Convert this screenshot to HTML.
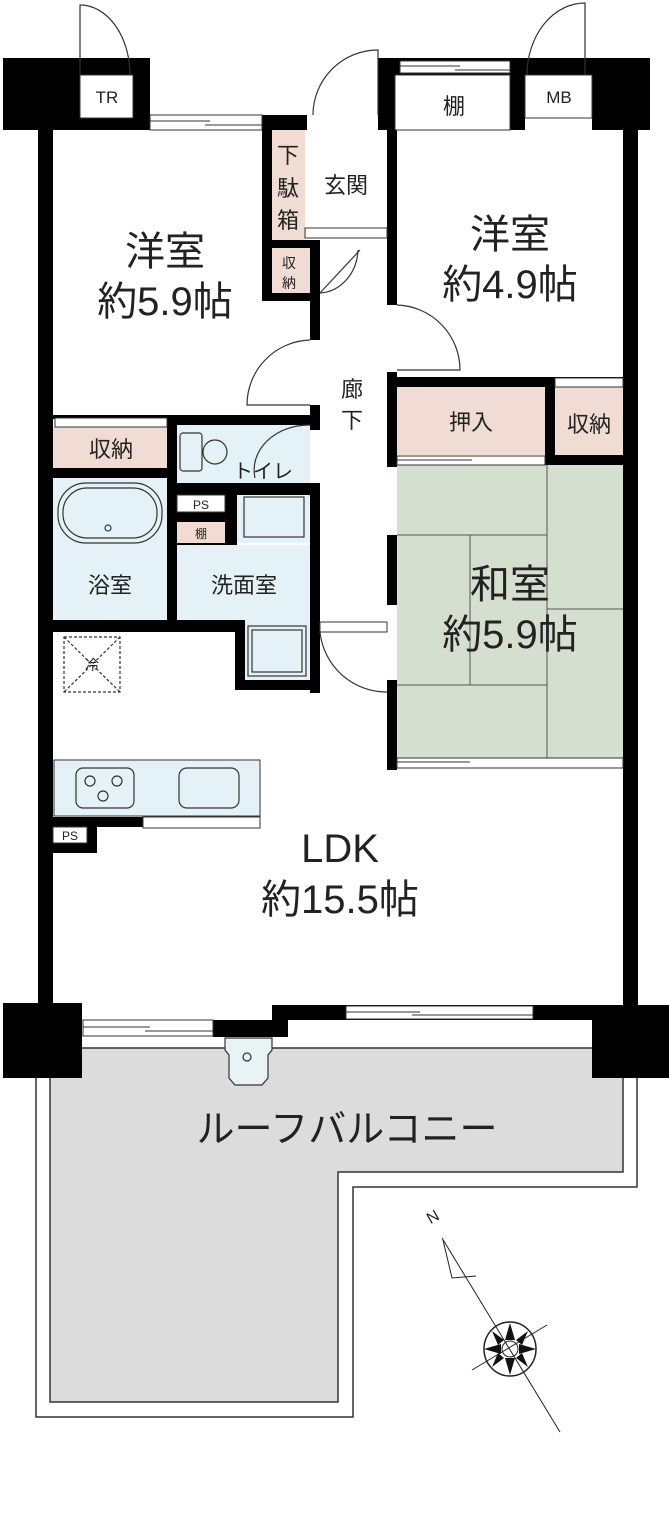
<!DOCTYPE html>
<html><head><meta charset="utf-8"><style>
html,body{margin:0;padding:0;background:#fff}
svg{display:block}
text{font-family:"Liberation Sans","Noto Sans CJK JP",sans-serif;fill:#222}
</style></head><body>
<svg width="669" height="1518" viewBox="0 0 669 1518" xmlns="http://www.w3.org/2000/svg">
<!-- balcony -->
<polygon points="36,1075 36,1417 353,1417 353,1187 637,1187 637,1075" fill="#fff" stroke="#333" stroke-width="1.5"/>
<polygon points="50,1048 50,1402 338,1402 338,1172 623,1172 623,1048" fill="#dcdcdc" stroke="#333" stroke-width="1.5"/>
<!-- fills -->
<rect x="272" y="130" width="33" height="110" fill="#f0dcd2"/>
<rect x="272" y="248" width="38" height="45" fill="#f0dcd2"/>
<rect x="397" y="387" width="148" height="68" fill="#f0dcd2"/>
<rect x="555" y="387" width="68" height="68" fill="#f0dcd2"/>
<rect x="53" y="427" width="114" height="41" fill="#f0dcd2"/>
<rect x="177" y="425" width="133" height="58" fill="#e4f2f7"/>
<rect x="53" y="478" width="114" height="142" fill="#e4f2f7"/>
<rect x="237" y="495" width="73" height="48" fill="#e4f2f7"/>
<rect x="177" y="545" width="133" height="75" fill="#e4f2f7"/>
<rect x="243" y="620" width="67" height="60" fill="#e4f2f7"/>
<rect x="177" y="522" width="48" height="21" fill="#f0dcd2"/>
<rect x="54" y="760" width="206" height="56" fill="#e4f2f7" stroke="#333"/>
<rect x="397" y="465" width="226" height="293" fill="#d5dfcf"/>
<g stroke="#555" stroke-width="1" fill="none">
<line x1="397" y1="535" x2="547" y2="535"/><line x1="547" y1="465" x2="547" y2="758"/>
<line x1="470" y1="535" x2="470" y2="685"/><line x1="397" y1="685" x2="547" y2="685"/>
<line x1="547" y1="609" x2="623" y2="609"/>
</g>
<!-- walls -->
<g fill="#000">
<rect x="3" y="58" width="147" height="72"/>
<rect x="38" y="130" width="15" height="877"/>
<rect x="623" y="130" width="15" height="877"/>
<rect x="378" y="58" width="272" height="17"/>
<rect x="378" y="58" width="17" height="72"/>
<rect x="510" y="75" width="15" height="55"/>
<rect x="592" y="58" width="58" height="72"/>
<rect x="262" y="115" width="45" height="15"/>
<rect x="262" y="130" width="10" height="170"/>
<rect x="262" y="240" width="58" height="8"/>
<rect x="262" y="293" width="58" height="8"/>
<rect x="310" y="240" width="10" height="100"/>
<rect x="310" y="405" width="10" height="25"/>
<rect x="387" y="130" width="10" height="175"/>
<rect x="387" y="372" width="10" height="95"/>
<rect x="387" y="535" width="10" height="70"/>
<rect x="387" y="680" width="10" height="90"/>
<rect x="387" y="377" width="236" height="10"/>
<rect x="545" y="377" width="10" height="88"/>
<rect x="545" y="455" width="78" height="10"/>
<rect x="40" y="415" width="137" height="4"/>
<rect x="167" y="415" width="153" height="10"/>
<rect x="167" y="415" width="10" height="210"/>
<rect x="40" y="468" width="137" height="10"/>
<rect x="177" y="483" width="143" height="12"/>
<rect x="225" y="495" width="12" height="50"/>
<rect x="177" y="512" width="48" height="10"/>
<rect x="177" y="543" width="60" height="2"/>
<rect x="310" y="483" width="10" height="210"/>
<rect x="40" y="620" width="203" height="12"/>
<rect x="235" y="620" width="10" height="70"/>
<rect x="235" y="680" width="85" height="10"/>
<rect x="40" y="817" width="103" height="10"/>
<rect x="87" y="817" width="10" height="36"/>
<rect x="40" y="843" width="57" height="10"/>
<rect x="3" y="1003" width="79" height="75"/>
<rect x="272" y="1005" width="321" height="15"/>
<rect x="213" y="1020" width="75" height="17"/>
<rect x="592" y="1005" width="77" height="73"/>
</g>
<!-- white boxes -->
<g fill="#fff" stroke="#333">
<rect x="80" y="75" width="53" height="43"/>
<rect x="395" y="75" width="115" height="55"/>
<rect x="525" y="75" width="67" height="43"/>
<rect x="177" y="495" width="48" height="17"/>
<rect x="53" y="827" width="34" height="16"/>
<rect x="143" y="817" width="117" height="11"/>
</g>
<!-- windows / sliding doors -->
<g stroke="#333" stroke-width="1" fill="#fff">
<rect x="150" y="115" width="112" height="15"/><line x1="150" y1="121" x2="210" y2="121"/><line x1="205" y1="125" x2="262" y2="125"/>
<rect x="400" y="61" width="110" height="12"/><line x1="400" y1="66" x2="460" y2="66"/><line x1="455" y1="70" x2="510" y2="70"/>
<rect x="83" y="1020" width="130" height="16"/><line x1="83" y1="1027" x2="150" y2="1027"/><line x1="145" y1="1031" x2="213" y2="1031"/>
<rect x="346" y="1006" width="187" height="13"/><line x1="346" y1="1012" x2="420" y2="1012"/><line x1="412" y1="1015" x2="533" y2="1015"/>
<rect x="397" y="456" width="148" height="9"/><line x1="397" y1="460" x2="472" y2="460"/>
<rect x="397" y="758" width="226" height="10"/><line x1="397" y1="762" x2="470" y2="762"/>
<rect x="305" y="228" width="82" height="10"/>
<rect x="55" y="418" width="112" height="9"/>
<rect x="555" y="378" width="68" height="9"/>
<rect x="320" y="622" width="67" height="10"/>
</g>
<!-- door arcs -->
<g stroke="#333" stroke-width="1.2" fill="none">
<path d="M80,75 L80,5 A50,70 0 0 1 130,75"/>
<path d="M585,75 L585,3 A58,72 0 0 0 527,75"/>
<path d="M378,115 L378,50 A65,65 0 0 0 313,115"/>
<path d="M320,293 L360,250"/><path d="M320,293 A40,45 0 0 0 358,250"/>
<path d="M310,340 A65,65 0 0 0 247,405 L310,405"/>
<path d="M397,305 A65,65 0 0 1 460,370 L397,370"/>
<path d="M320,632 A67,67 0 0 0 387,692"/>
<path d="M310,425 A55,45 0 0 0 255,478"/>
</g>
<!-- fixtures -->
<g stroke="#333" stroke-width="1.2" fill="none">
<rect x="58" y="483" width="104" height="60" rx="28"/>
<rect x="63" y="488" width="94" height="50" rx="24"/>
<circle cx="108" cy="528" r="3"/>
<rect x="180" y="433" width="22" height="38" rx="3"/>
<circle cx="215" cy="452" r="12"/>
<rect x="244" y="497" width="60" height="40"/>
<rect x="248" y="626" width="58" height="50"/>
<rect x="252" y="630" width="50" height="42"/>
<rect x="64" y="637" width="56" height="55" stroke-dasharray="3,2"/>
<line x1="64" y1="637" x2="120" y2="692" stroke-dasharray="3,2"/><line x1="120" y1="637" x2="64" y2="692" stroke-dasharray="3,2"/>
<rect x="76" y="768" width="58" height="40" rx="7"/>
<circle cx="90" cy="781" r="5"/><circle cx="117" cy="781" r="5"/><circle cx="103" cy="796" r="5"/>
<rect x="179" y="768" width="60" height="40" rx="8"/>
<path d="M225,1038 L272,1038 L272,1050 L268,1055 L268,1078 L262,1085 L235,1085 L229,1078 L229,1055 L225,1050 Z" fill="#e8f3f5"/>
<circle cx="247" cy="1057" r="4"/>
</g>
<!-- compass -->
<g stroke="#222" fill="none">
<line x1="442" y1="1238" x2="560" y2="1432"/>
<line x1="472" y1="1370" x2="547" y2="1325"/>
<path d="M443,1240 L452,1278 L476,1276"/>
<ellipse cx="510" cy="1349" rx="26" ry="27" stroke-width="1.5"/>
<circle cx="510" cy="1349" r="8"/>
</g>
<g fill="#111">
<polygon points="510,1323 515,1340 505,1340"/><polygon points="510,1375 515,1358 505,1358"/>
<polygon points="484,1349 501,1344 501,1354"/><polygon points="536,1349 519,1344 519,1354"/>
<polygon points="492,1331 504,1340 498,1345"/><polygon points="528,1331 516,1340 522,1345"/>
<polygon points="492,1367 504,1358 498,1353"/><polygon points="528,1367 516,1358 522,1353"/>
</g>
<text x="428" y="1225" font-size="16" transform="rotate(-30 428 1220)">N</text>
<!-- labels -->
<text x="107" y="103" font-size="17" text-anchor="middle">TR</text>
<text x="454" y="114" font-size="22" text-anchor="middle">棚</text>
<text x="559" y="103" font-size="17" text-anchor="middle">MB</text>
<text x="165" y="265" font-size="40" text-anchor="middle">洋室</text>
<text x="165" y="315" font-size="40" text-anchor="middle">約5.9帖</text>
<text x="510" y="248" font-size="40" text-anchor="middle">洋室</text>
<text x="510" y="298" font-size="40" text-anchor="middle">約4.9帖</text>
<text x="288" y="163" font-size="22" text-anchor="middle">下</text>
<text x="288" y="196" font-size="22" text-anchor="middle">駄</text>
<text x="288" y="228" font-size="22" text-anchor="middle">箱</text>
<text x="289" y="268" font-size="14" text-anchor="middle">収</text>
<text x="289" y="288" font-size="14" text-anchor="middle">納</text>
<text x="346" y="193" font-size="22" text-anchor="middle">玄関</text>
<text x="352" y="397" font-size="22" text-anchor="middle">廊</text>
<text x="352" y="428" font-size="22" text-anchor="middle">下</text>
<text x="471" y="430" font-size="22" text-anchor="middle">押入</text>
<text x="589" y="432" font-size="22" text-anchor="middle">収納</text>
<text x="111" y="457" font-size="22" text-anchor="middle">収納</text>
<text x="263" y="478" font-size="20" text-anchor="middle">トイレ</text>
<text x="201" y="509" font-size="12" text-anchor="middle">PS</text>
<text x="201" y="538" font-size="12" text-anchor="middle">棚</text>
<text x="110" y="593" font-size="22" text-anchor="middle">浴室</text>
<text x="244" y="593" font-size="22" text-anchor="middle">洗面室</text>
<text x="92" y="670" font-size="14" text-anchor="middle">冷</text>
<text x="510" y="598" font-size="40" text-anchor="middle">和室</text>
<text x="510" y="648" font-size="40" text-anchor="middle">約5.9帖</text>
<text x="70" y="840" font-size="12" text-anchor="middle">PS</text>
<text x="340" y="862" font-size="40" text-anchor="middle">LDK</text>
<text x="340" y="913" font-size="40" text-anchor="middle">約15.5帖</text>
<text x="347" y="1142" font-size="38" text-anchor="middle">ルーフバルコニー</text>
</svg>
</body></html>
